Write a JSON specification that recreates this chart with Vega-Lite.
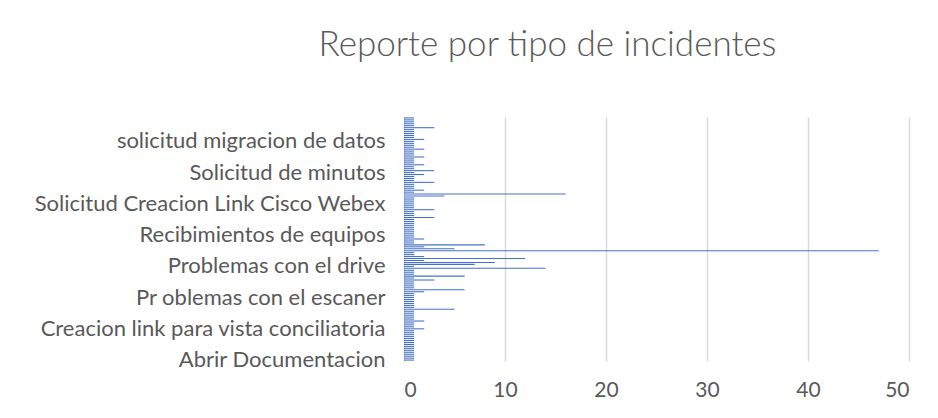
{
  "$schema": "https://vega.github.io/schema/vega-lite/v6.json",
  "width": 505,
  "height": 244,
  "autosize": {"type": "none"},
  "padding": {"left": 404, "top": 117, "right": 29, "bottom": 57},
  "background": "white",
  "title": {
    "text": "Reporte por tipo de incidentes",
    "font": "Lato",
    "fontWeight": 300,
    "fontSize": 35,
    "color": "#595959",
    "anchor": "middle",
    "baseline": "alphabetic",
    "offset": 26,
    "dx": -109
  },
  "data": {
    "values": [
      {"tipo": "Abrir Documentacion", "orden": 0, "casos": 1},
      {"tipo": "Incidente 001", "orden": 1, "casos": 1},
      {"tipo": "Incidente 002", "orden": 2, "casos": 1},
      {"tipo": "Incidente 003", "orden": 3, "casos": 1},
      {"tipo": "Incidente 004", "orden": 4, "casos": 1},
      {"tipo": "Incidente 005", "orden": 5, "casos": 1},
      {"tipo": "Incidente 006", "orden": 6, "casos": 1},
      {"tipo": "Incidente 007", "orden": 7, "casos": 1},
      {"tipo": "Incidente 008", "orden": 8, "casos": 1},
      {"tipo": "Incidente 009", "orden": 9, "casos": 1},
      {"tipo": "Incidente 010", "orden": 10, "casos": 1},
      {"tipo": "Incidente 011", "orden": 11, "casos": 1},
      {"tipo": "Incidente 012", "orden": 12, "casos": 1},
      {"tipo": "Incidente 013", "orden": 13, "casos": 1},
      {"tipo": "Incidente 014", "orden": 14, "casos": 1},
      {"tipo": "Incidente 015", "orden": 15, "casos": 1},
      {"tipo": "Creacion link para vista conciliatoria", "orden": 16, "casos": 2},
      {"tipo": "Incidente 017", "orden": 17, "casos": 1},
      {"tipo": "Incidente 018", "orden": 18, "casos": 1},
      {"tipo": "Incidente 019", "orden": 19, "casos": 1},
      {"tipo": "Incidente 020", "orden": 20, "casos": 2},
      {"tipo": "Incidente 021", "orden": 21, "casos": 1},
      {"tipo": "Incidente 022", "orden": 22, "casos": 1},
      {"tipo": "Incidente 023", "orden": 23, "casos": 1},
      {"tipo": "Incidente 024", "orden": 24, "casos": 1},
      {"tipo": "Incidente 025", "orden": 25, "casos": 1},
      {"tipo": "Incidente 026", "orden": 26, "casos": 5},
      {"tipo": "Incidente 027", "orden": 27, "casos": 1},
      {"tipo": "Incidente 028", "orden": 28, "casos": 1},
      {"tipo": "Incidente 029", "orden": 29, "casos": 1},
      {"tipo": "Incidente 030", "orden": 30, "casos": 1},
      {"tipo": "Incidente 031", "orden": 31, "casos": 1},
      {"tipo": "Pr oblemas con el escaner", "orden": 32, "casos": 1},
      {"tipo": "Incidente 033", "orden": 33, "casos": 1},
      {"tipo": "Incidente 034", "orden": 34, "casos": 1},
      {"tipo": "Incidente 035", "orden": 35, "casos": 2},
      {"tipo": "Incidente 036", "orden": 36, "casos": 6},
      {"tipo": "Incidente 037", "orden": 37, "casos": 1},
      {"tipo": "Incidente 038", "orden": 38, "casos": 1},
      {"tipo": "Incidente 039", "orden": 39, "casos": 1},
      {"tipo": "Incidente 040", "orden": 40, "casos": 1},
      {"tipo": "Incidente 041", "orden": 41, "casos": 3},
      {"tipo": "Incidente 042", "orden": 42, "casos": 1},
      {"tipo": "Incidente 043", "orden": 43, "casos": 6},
      {"tipo": "Incidente 044", "orden": 44, "casos": 1},
      {"tipo": "Incidente 045", "orden": 45, "casos": 1},
      {"tipo": "Incidente 046", "orden": 46, "casos": 1},
      {"tipo": "Incidente 047", "orden": 47, "casos": 14},
      {"tipo": "Problemas con el drive", "orden": 48, "casos": 1},
      {"tipo": "Incidente 049", "orden": 49, "casos": 7},
      {"tipo": "Incidente 050", "orden": 50, "casos": 9},
      {"tipo": "Incidente 051", "orden": 51, "casos": 2},
      {"tipo": "Incidente 052", "orden": 52, "casos": 12},
      {"tipo": "Incidente 053", "orden": 53, "casos": 2},
      {"tipo": "Incidente 054", "orden": 54, "casos": 1},
      {"tipo": "Incidente 055", "orden": 55, "casos": 1},
      {"tipo": "Incidente 056", "orden": 56, "casos": 47},
      {"tipo": "Incidente 057", "orden": 57, "casos": 5},
      {"tipo": "Incidente 058", "orden": 58, "casos": 2},
      {"tipo": "Incidente 059", "orden": 59, "casos": 8},
      {"tipo": "Incidente 060", "orden": 60, "casos": 1},
      {"tipo": "Incidente 061", "orden": 61, "casos": 1},
      {"tipo": "Incidente 062", "orden": 62, "casos": 2},
      {"tipo": "Incidente 063", "orden": 63, "casos": 1},
      {"tipo": "Recibimientos de equipos", "orden": 64, "casos": 1},
      {"tipo": "Incidente 065", "orden": 65, "casos": 1},
      {"tipo": "Incidente 066", "orden": 66, "casos": 1},
      {"tipo": "Incidente 067", "orden": 67, "casos": 1},
      {"tipo": "Incidente 068", "orden": 68, "casos": 1},
      {"tipo": "Incidente 069", "orden": 69, "casos": 1},
      {"tipo": "Incidente 070", "orden": 70, "casos": 1},
      {"tipo": "Incidente 071", "orden": 71, "casos": 1},
      {"tipo": "Incidente 072", "orden": 72, "casos": 1},
      {"tipo": "Incidente 073", "orden": 73, "casos": 3},
      {"tipo": "Incidente 074", "orden": 74, "casos": 1},
      {"tipo": "Incidente 075", "orden": 75, "casos": 1},
      {"tipo": "Incidente 076", "orden": 76, "casos": 1},
      {"tipo": "Incidente 077", "orden": 77, "casos": 3},
      {"tipo": "Incidente 078", "orden": 78, "casos": 1},
      {"tipo": "Incidente 079", "orden": 79, "casos": 1},
      {"tipo": "Solicitud Creacion Link Cisco Webex", "orden": 80, "casos": 1},
      {"tipo": "Incidente 081", "orden": 81, "casos": 1},
      {"tipo": "Incidente 082", "orden": 82, "casos": 1},
      {"tipo": "Incidente 083", "orden": 83, "casos": 1},
      {"tipo": "Incidente 084", "orden": 84, "casos": 4},
      {"tipo": "Incidente 085", "orden": 85, "casos": 16},
      {"tipo": "Incidente 086", "orden": 86, "casos": 1},
      {"tipo": "Incidente 087", "orden": 87, "casos": 2},
      {"tipo": "Incidente 088", "orden": 88, "casos": 1},
      {"tipo": "Incidente 089", "orden": 89, "casos": 1},
      {"tipo": "Incidente 090", "orden": 90, "casos": 1},
      {"tipo": "Incidente 091", "orden": 91, "casos": 3},
      {"tipo": "Incidente 092", "orden": 92, "casos": 1},
      {"tipo": "Incidente 093", "orden": 93, "casos": 1},
      {"tipo": "Incidente 094", "orden": 94, "casos": 1},
      {"tipo": "Incidente 095", "orden": 95, "casos": 2},
      {"tipo": "Solicitud de minutos", "orden": 96, "casos": 1},
      {"tipo": "Incidente 097", "orden": 97, "casos": 3},
      {"tipo": "Incidente 098", "orden": 98, "casos": 1},
      {"tipo": "Incidente 099", "orden": 99, "casos": 1},
      {"tipo": "Incidente 100", "orden": 100, "casos": 2},
      {"tipo": "Incidente 101", "orden": 101, "casos": 1},
      {"tipo": "Incidente 102", "orden": 102, "casos": 1},
      {"tipo": "Incidente 103", "orden": 103, "casos": 1},
      {"tipo": "Incidente 104", "orden": 104, "casos": 2},
      {"tipo": "Incidente 105", "orden": 105, "casos": 1},
      {"tipo": "Incidente 106", "orden": 106, "casos": 1},
      {"tipo": "Incidente 107", "orden": 107, "casos": 1},
      {"tipo": "Incidente 108", "orden": 108, "casos": 2},
      {"tipo": "Incidente 109", "orden": 109, "casos": 1},
      {"tipo": "Incidente 110", "orden": 110, "casos": 1},
      {"tipo": "Incidente 111", "orden": 111, "casos": 1},
      {"tipo": "solicitud migracion de datos", "orden": 112, "casos": 1},
      {"tipo": "Incidente 113", "orden": 113, "casos": 2},
      {"tipo": "Incidente 114", "orden": 114, "casos": 1},
      {"tipo": "Incidente 115", "orden": 115, "casos": 1},
      {"tipo": "Incidente 116", "orden": 116, "casos": 1},
      {"tipo": "Incidente 117", "orden": 117, "casos": 1},
      {"tipo": "Incidente 118", "orden": 118, "casos": 1},
      {"tipo": "Incidente 119", "orden": 119, "casos": 3},
      {"tipo": "Incidente 120", "orden": 120, "casos": 1},
      {"tipo": "Incidente 121", "orden": 121, "casos": 1},
      {"tipo": "Incidente 122", "orden": 122, "casos": 1},
      {"tipo": "Incidente 123", "orden": 123, "casos": 1},
      {"tipo": "Incidente 124", "orden": 124, "casos": 1}
    ]
  },
  "mark": {"type": "bar", "color": "#4472C4"},
  "encoding": {
    "y": {
      "field": "tipo",
      "type": "nominal",
      "sort": {"field": "orden", "op": "max", "order": "descending"},
      "scale": {"paddingInner": 0.45, "paddingOuter": 0.2},
      "axis": {
        "title": null,
        "values": ["Abrir Documentacion", "Creacion link para vista conciliatoria", "Pr oblemas con el escaner", "Problemas con el drive", "Recibimientos de equipos", "Solicitud Creacion Link Cisco Webex", "Solicitud de minutos", "solicitud migracion de datos"],
        "ticks": false,
        "domain": false,
        "grid": false,
        "labelPadding": 19,
        "labelFont": "Lato",
        "labelFontSize": 22,
        "labelColor": "#595959",
        "labelLimit": 420
      }
    },
    "x": {
      "field": "casos",
      "type": "quantitative",
      "scale": {"domain": [0, 50]},
      "axis": {
        "title": null,
        "values": [0, 10, 20, 30, 40, 50],
        "grid": true,
        "gridColor": "#d9d9d9",
        "gridWidth": 1.5,
        "domain": false,
        "ticks": false,
        "labelFont": "Lato",
        "labelFontSize": 21,
        "labelColor": "#595959",
        "labelPadding": 18
      }
    }
  },
  "config": {"view": {"stroke": null}}
}
